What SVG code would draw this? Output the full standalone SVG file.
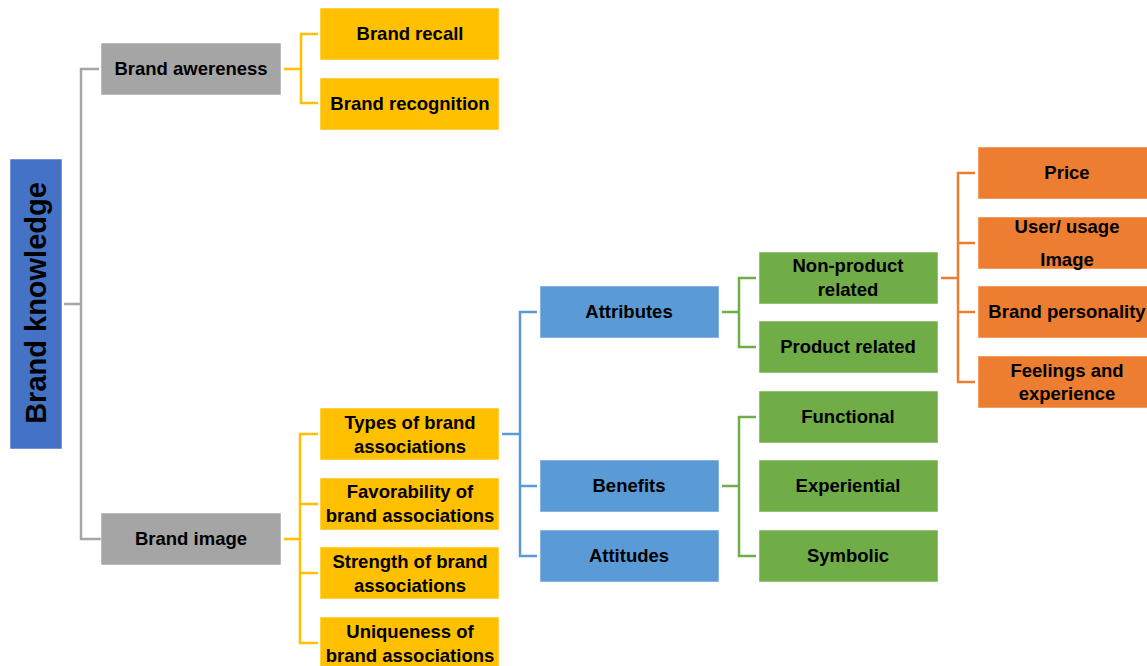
<svg xmlns="http://www.w3.org/2000/svg" width="1147" height="666" viewBox="0 0 1147 666">
<style>
text{font-family:"Liberation Sans",Arial,sans-serif;font-weight:bold;font-size:18.5px;fill:#000;text-anchor:middle}
.c{fill:none;stroke-width:2.5}
.gray{fill:#A5A5A5}.yel{fill:#FFC000}.blu{fill:#5B9BD5}.grn{fill:#70AD47}.org{fill:#ED7D31}
rect{stroke:#fff;stroke-opacity:0.5;stroke-width:1}
</style>
<rect width="1147" height="666" fill="#fff" stroke="none"/>
<g id="connectors">
<path class="c" stroke="#A5A5A5" d="M64 304H81M99 69H81V539H101"/>
<path class="c" stroke="#FFC000" d="M284 69H301M318 34H301V103H318"/>
<path class="c" stroke="#FFC000" d="M284 539H300M318 434H300V643H318M300 504H318M300 573H318"/>
<path class="c" stroke="#5B9BD5" d="M502 434H520M537 312H520V556H537M520 486H537"/>
<path class="c" stroke="#70AD47" d="M722 312H739M756 278H739V347H756"/>
<path class="c" stroke="#70AD47" d="M722 486H739M756 417H739V556H756"/>
<path class="c" stroke="#ED7D31" d="M941 278H958M975 173H958V382H975M958 243H975M958 312H975"/>
</g>
<g id="brand-knowledge"><rect x="10" y="159" width="52" height="290" fill="#4472C4"/><text transform="translate(46 303) rotate(-90)" style="font-size:29px">Brand knowledge</text></g>
<g id="brand-awereness"><rect class="gray" x="101" y="43" width="180" height="52"/><text x="191" y="75">Brand awereness</text></g>
<g id="brand-image"><rect class="gray" x="101" y="513" width="180" height="52"/><text x="191" y="545">Brand image</text></g>
<g id="brand-recall"><rect class="yel" x="320" y="8" width="179" height="52"/><text x="410" y="40">Brand recall</text></g>
<g id="brand-recognition"><rect class="yel" x="320" y="78" width="179" height="52"/><text x="410" y="110">Brand recognition</text></g>
<g id="types"><rect class="yel" x="320" y="408" width="179" height="52"/><text x="410" y="429">Types of brand</text><text x="410" y="453">associations</text></g>
<g id="favorability"><rect class="yel" x="320" y="478" width="179" height="52"/><text x="410" y="498">Favorability of</text><text x="410" y="522">brand associations</text></g>
<g id="strength"><rect class="yel" x="320" y="547" width="179" height="52"/><text x="410" y="568">Strength of brand</text><text x="410" y="592">associations</text></g>
<g id="uniqueness"><rect class="yel" x="320" y="617" width="179" height="52"/><text x="410" y="638">Uniqueness of</text><text x="410" y="662">brand associations</text></g>
<g id="attributes"><rect class="blu" x="540" y="286" width="179" height="52"/><text x="629" y="318">Attributes</text></g>
<g id="benefits"><rect class="blu" x="540" y="460" width="179" height="52"/><text x="629" y="492">Benefits</text></g>
<g id="attitudes"><rect class="blu" x="540" y="530" width="179" height="52"/><text x="629" y="562">Attitudes</text></g>
<g id="non-product"><rect class="grn" x="759" y="252" width="179" height="52"/><text x="848" y="272">Non-product</text><text x="848" y="296">related</text></g>
<g id="product-related"><rect class="grn" x="759" y="321" width="179" height="52"/><text x="848" y="353">Product related</text></g>
<g id="functional"><rect class="grn" x="759" y="391" width="179" height="52"/><text x="848" y="423">Functional</text></g>
<g id="experiential"><rect class="grn" x="759" y="460" width="179" height="52"/><text x="848" y="492">Experiential</text></g>
<g id="symbolic"><rect class="grn" x="759" y="530" width="179" height="52"/><text x="848" y="562">Symbolic</text></g>
<g id="price"><rect class="org" x="978" y="147" width="170" height="52"/><text x="1067" y="179">Price</text></g>
<g id="user-usage"><rect class="org" x="978" y="217" width="170" height="52"/><text x="1067" y="233">User/ usage</text><text x="1067" y="266">Image</text></g>
<g id="brand-personality"><rect class="org" x="978" y="286" width="170" height="52"/><text x="1067" y="318">Brand personality</text></g>
<g id="feelings"><rect class="org" x="978" y="356" width="170" height="52"/><text x="1067" y="377">Feelings and</text><text x="1067" y="400">experience</text></g>
</svg>
